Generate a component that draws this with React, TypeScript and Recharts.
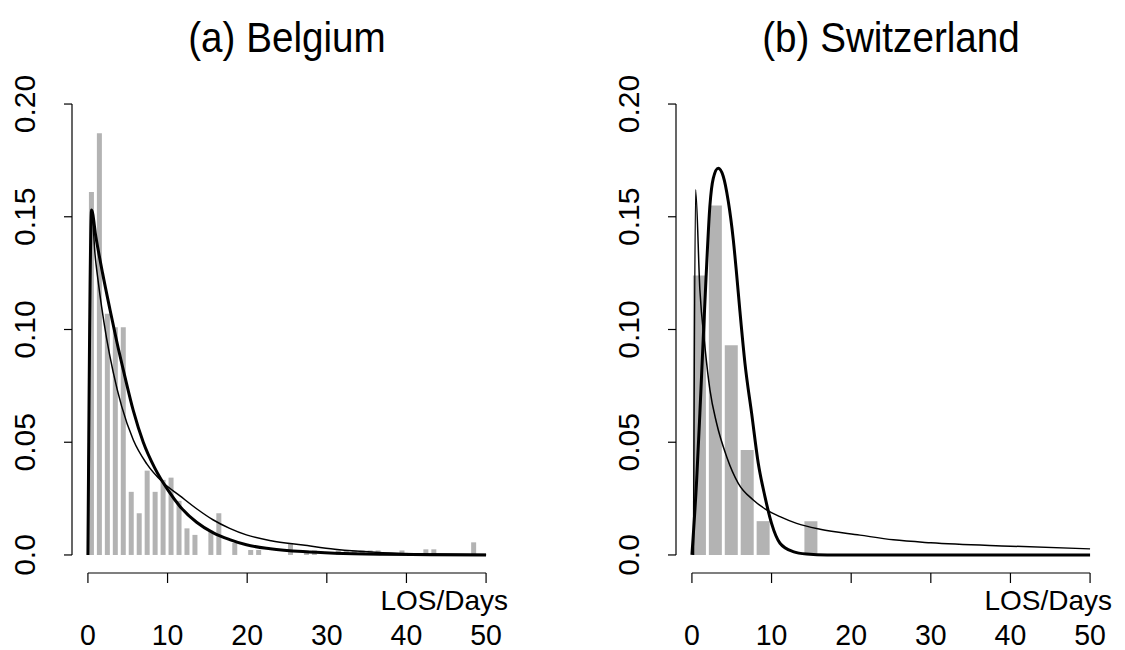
import React from 'react';
import { ComposedChart, Bar, Line, XAxis, YAxis, ReferenceLine } from 'recharts';

const FONT = '"Liberation Sans", Arial, Helvetica, sans-serif';

// Axes
const xTicks = [0, 10, 20, 30, 40, 50];
const yTicks = [0, 0.05, 0.1, 0.15, 0.2];
const yTickLabels = ['0.0', '0.05', '0.10', '0.15', '0.20'];
const X_DOMAIN: [number, number] = [-2, 52];
const Y_DOMAIN: [number, number] = [-0.008, 0.208];
const xAxisTitle = 'LOS/Days';
const titles = ['(a) Belgium', '(b) Switzerland'];

// (a) Belgium – histogram (daily bins)
const belgiumBarDays = [0.5, 1.5, 2.5, 3.5, 4.5, 5.5, 6.5, 7.5, 8.5, 9.5, 10.5, 11.5, 12.5, 13.5, 15.5, 16.5, 18.5, 20.5, 21.5, 25.5, 27.5, 28.5, 31.5, 32.5, 33.5, 34.5, 35.5, 36.5, 39.5, 42.5, 43.5, 48.5];
const belgiumBarDensity = [0.161, 0.187, 0.107, 0.101, 0.101, 0.028, 0.0185, 0.0374, 0.028, 0.0333, 0.0343, 0.024, 0.0118, 0.0089, 0.0108, 0.0185, 0.0053, 0.0022, 0.0022, 0.0052, 0.002, 0.002, 0.002, 0.002, 0.002, 0.002, 0.002, 0.002, 0.002, 0.0025, 0.0025, 0.0056];

// (a) Belgium – fitted curves
const belgiumThickX = [0, 0.46, 1.0, 1.84, 2.76, 3.6, 4.65, 5.7, 6.95, 8.4, 10.1, 11.56, 13.65, 15.75, 17.8, 19.9, 22.9, 27, 31, 37, 43, 50];
const belgiumThickY = [0, 0.153, 0.141, 0.125, 0.109, 0.095, 0.079, 0.064, 0.05, 0.0385, 0.0285, 0.0215, 0.0145, 0.0098, 0.0068, 0.0045, 0.0028, 0.0015, 0.0008, 0.0003, 0.0001, 0];
const belgiumThinX = [0, 0.46, 0.9, 1.3, 1.72, 2.35, 3.18, 4.23, 5.7, 7.37, 9.46, 11.56, 13.65, 15.75, 17.8, 19.9, 23, 27, 31, 37, 44, 50];
const belgiumThinY = [0, 0.153, 0.133, 0.121, 0.11, 0.096, 0.081, 0.066, 0.051, 0.0405, 0.032, 0.0262, 0.0205, 0.0155, 0.0118, 0.0089, 0.0063, 0.0044, 0.0025, 0.001, 0.0004, 0.0002];

// (b) Switzerland – histogram (2-day bins)
const swissBarDays = [1, 3, 5, 7, 9, 15];
const swissBarDensity = [0.124, 0.155, 0.093, 0.0465, 0.015, 0.015];

// (b) Switzerland – fitted curves
const swissThickX = [0, 0.59, 1.0, 1.42, 1.76, 2.26, 2.68, 3.3, 3.93, 4.56, 5.19, 5.6, 6.03, 6.66, 7.5, 8.33, 9.17, 10.0, 11.06, 12.7, 14.4, 17, 50];
const swissThickY = [0, 0.033, 0.063, 0.096, 0.122, 0.155, 0.167, 0.1715, 0.168, 0.157, 0.14, 0.125, 0.108, 0.085, 0.0628, 0.0407, 0.0259, 0.014, 0.0052, 0.0015, 0.0004, 0, 0];
const swissThinX = [0.2, 0.46, 1.0, 1.63, 2.26, 3.1, 4.36, 5.82, 7.7, 9.38, 11.06, 13.15, 16.1, 21.1, 25.3, 30, 40, 50];
const swissThinY = [0, 0.162, 0.1175, 0.0924, 0.0732, 0.0584, 0.0436, 0.0318, 0.0244, 0.02, 0.017, 0.014, 0.0114, 0.0088, 0.0067, 0.0054, 0.0039, 0.0027];

const zip = (xs: number[], ys: number[]) => xs.map((x, i) => ({ x, y: ys[i] }));

const TICK_FS = 30;

const XTick = (props: any) => {
  const { x, payload } = props;
  return (
    <text
      transform={`translate(${x} 645) scale(0.95 1)`}
      x={0}
      y={0}
      textAnchor="middle"
      fontSize={TICK_FS}
      fontFamily={FONT}
      fill="#000"
    >
      {payload.value}
    </text>
  );
};

const YTick = (props: any) => {
  const { x, y, payload } = props;
  const bx = x - 29;
  let idx = 0;
  let best = Infinity;
  yTicks.forEach((t, i) => {
    const d = Math.abs(t - payload.value);
    if (d < best) {
      best = d;
      idx = i;
    }
  });
  return (
    <text
      transform={`translate(${bx} ${y}) rotate(-90)`}
      x={0}
      y={0}
      textAnchor="middle"
      fontSize={TICK_FS}
      fontFamily={FONT}
      fill="#000"
    >
      {yTickLabels[idx]}
    </text>
  );
};

type PanelProps = {
  left: number;
  width: number;
  yAxisWidth: number;
  rightMargin: number;
  bars: { x: number; y: number }[];
  barSize: number;
  thick: { x: number; y: number }[];
  thin: { x: number; y: number }[];
};

const AXIS_STROKE = { stroke: '#000', strokeWidth: 1.2 };

function Panel({ left, width, yAxisWidth, rightMargin, bars, barSize, thick, thin }: PanelProps) {
  const margin = { top: 86, right: rightMargin, bottom: 0, left: 0 };
  return (
    <div style={{ position: 'absolute', left, top: 0, width, height: 650 }}>
      <div style={{ position: 'absolute', left: 0, top: 0 }}>
        <ComposedChart width={width} height={650} data={bars} margin={margin}>
          <XAxis
            dataKey="x"
            type="number"
            domain={X_DOMAIN}
            ticks={xTicks}
            allowDataOverflow
            height={77}
            axisLine={false}
            tickLine={AXIS_STROKE}
            tickSize={10}
            tick={<XTick />}
            interval={0}
          />
          <YAxis
            type="number"
            domain={Y_DOMAIN}
            ticks={yTicks}
            allowDataOverflow
            width={yAxisWidth}
            axisLine={false}
            tickLine={AXIS_STROKE}
            tickSize={8}
            tickMargin={0}
            tick={<YTick />}
            interval={0}
          />
          <ReferenceLine
            segment={[{ x: 0, y: Y_DOMAIN[0] }, { x: 50, y: Y_DOMAIN[0] }]}
            stroke="#000"
            strokeWidth={1.2}
            ifOverflow="visible"
          />
          <ReferenceLine
            segment={[{ x: X_DOMAIN[0], y: 0 }, { x: X_DOMAIN[0], y: 0.2 }]}
            stroke="#000"
            strokeWidth={1.2}
            ifOverflow="visible"
          />
          <Bar dataKey="y" fill="#b3b3b3" barSize={barSize} isAnimationActive={false} />
        </ComposedChart>
      </div>
      <div style={{ position: 'absolute', left: 0, top: 0 }}>
        <ComposedChart width={width} height={650} margin={margin}>
          <XAxis dataKey="x" type="number" domain={X_DOMAIN} allowDataOverflow height={77} tick={false} tickLine={false} axisLine={false} />
          <YAxis type="number" domain={Y_DOMAIN} allowDataOverflow width={yAxisWidth} tick={false} tickLine={false} axisLine={false} />
          <Line data={thin} dataKey="y" type="monotone" stroke="#000" strokeWidth={1.5} dot={false} activeDot={false} isAnimationActive={false} />
          <Line data={thick} dataKey="y" type="monotone" stroke="#000" strokeWidth={3} dot={false} activeDot={false} isAnimationActive={false} />
        </ComposedChart>
      </div>
    </div>
  );
}

export default function App() {
  return (
    <div style={{ position: 'fixed', left: 0, top: 0, width: 1125, height: 650, background: '#fff', overflow: 'hidden' }}>
      <Panel
        left={0}
        width={560}
        yAxisWidth={72}
        rightMargin={58}
        bars={zip(belgiumBarDays, belgiumBarDensity)}
        barSize={5}
        thick={zip(belgiumThickX, belgiumThickY)}
        thin={zip(belgiumThinX, belgiumThinY)}
      />
      <Panel
        left={560}
        width={565}
        yAxisWidth={116}
        rightMargin={19}
        bars={zip(swissBarDays, swissBarDensity)}
        barSize={13}
        thick={zip(swissThickX, swissThickY)}
        thin={zip(swissThinX, swissThinY)}
      />
      <svg width={1125} height={650} style={{ position: 'absolute', left: 0, top: 0, pointerEvents: 'none' }}>
        <text transform="translate(287 52) scale(0.92 1)" x={0} y={0} textAnchor="middle" fontSize={42} fontFamily={FONT} fill="#000">{titles[0]}</text>
        <text transform="translate(891 52) scale(0.92 1)" x={0} y={0} textAnchor="middle" fontSize={42} fontFamily={FONT} fill="#000">{titles[1]}</text>
        <text x={508} y={610} textAnchor="end" fontSize={28} fontFamily={FONT} fill="#000">{xAxisTitle}</text>
        <text x={1112} y={610} textAnchor="end" fontSize={28} fontFamily={FONT} fill="#000">{xAxisTitle}</text>
      </svg>
    </div>
  );
}
